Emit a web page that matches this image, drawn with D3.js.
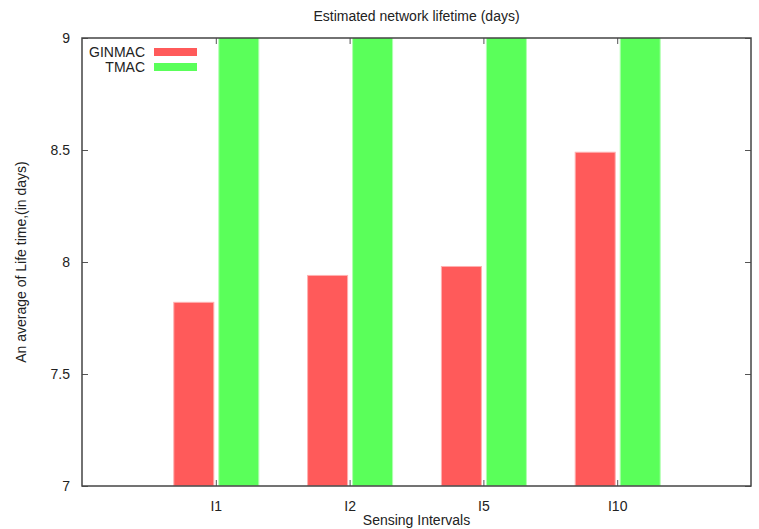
<!DOCTYPE html>
<html>
<head>
<meta charset="utf-8">
<script src="https://cdn.jsdelivr.net/npm/d3@7"></script>
<style>
  body { margin: 0; background: #fff; }
  svg text { font-family: "Liberation Sans", Arial, sans-serif; fill: #222; }
</style>
</head>
<body>
<svg id="chart" width="759" height="529"></svg>
<script>
// Estimated network lifetime bar chart (gnuplot look)
const categories = ['I1', 'I2', 'I5', 'I10'];
const ginmacValues = [7.82, 7.94, 7.98, 8.49];
const tmacValues = [9.6, 9.6, 9.6, 9.6];   // run off the top of the plot
const yTicks = [7, 7.5, 8, 8.5, 9];
const seriesNames = ['GINMAC', 'TMAC'];
const seriesColors = ['#ff5a5a', '#5aff5a'];

const svg = d3.select('#chart');
const margin = { top: 38, right: 8, bottom: 43, left: 82 };
const width = 759, height = 529;
const innerWidth = width - margin.left - margin.right;
const innerHeight = height - margin.top - margin.bottom;
const fontSize = 14;

const x = d3.scaleLinear().domain([0, categories.length + 1]).range([0, innerWidth]);
const y = d3.scaleLinear().domain([7, 9]).range([innerHeight, 0]);

const g = svg.append('g').attr('transform', `translate(${margin.left},${margin.top})`);

svg.append('defs').append('clipPath').attr('id', 'plotClip')
    .append('rect').attr('width', innerWidth).attr('height', innerHeight);

// Bars
const barW = 40;
const offsets = [-22, 23];
const series = [ginmacValues, tmacValues];
const bars = g.append('g').attr('clip-path', 'url(#plotClip)');
series.forEach((vals, s) => {
    bars.selectAll(`.bar${s}`)
        .data(vals)
        .enter()
        .append('rect')
        .attr('x', (d, i) => x(i + 1) + offsets[s] - barW / 2)
        .attr('y', d => y(d))
        .attr('width', barW)
        .attr('height', d => y(7) - y(d))
        .attr('fill', seriesColors[s])
        .attr('stroke', s === 0 ? '#ffb0b0' : '#b0ffb0')
        .attr('stroke-width', 1);
});

// Axes with inward ticks
const tickLen = 6;
const xTickVals = d3.range(1, categories.length + 1);
const yAxisL = d3.axisLeft(y).tickValues(yTicks).tickSizeInner(-tickLen).tickSizeOuter(0).tickPadding(12)
    .tickFormat(d3.format('~g'));
const yAxisR = d3.axisRight(y).tickValues(yTicks).tickSizeInner(-tickLen).tickSizeOuter(0);
const xAxisB = d3.axisBottom(x).tickValues(xTickVals).tickSizeInner(-tickLen)
    .tickSizeOuter(0).tickPadding(15).tickFormat(d => categories[d - 1]);
const xAxisT = d3.axisTop(x).tickValues(xTickVals).tickSizeInner(-tickLen).tickSizeOuter(0);

const axL = g.append('g').call(yAxisL);
const axR = g.append('g').attr('transform', `translate(${innerWidth},0)`).call(yAxisR);
const axB = g.append('g').attr('transform', `translate(0,${innerHeight})`).call(xAxisB);
const axT = g.append('g').call(xAxisT);
axR.selectAll('text').remove();
axT.selectAll('text').remove();

[axL, axR, axB, axT].forEach(a => {
    a.select('.domain').remove();
    a.selectAll('line').attr('stroke', '#555');
    a.selectAll('text').attr('font-size', fontSize).style('font-family', '"Liberation Sans", Arial, sans-serif').attr('fill', '#222');
});

// Border
g.append('rect')
    .attr('width', innerWidth)
    .attr('height', innerHeight)
    .attr('fill', 'none')
    .attr('stroke', '#444')
    .attr('stroke-width', 1.5);

// Legend
seriesNames.forEach((name, i) => {
    const ly = 14 + i * 15;
    g.append('text')
        .attr('x', 63)
        .attr('y', ly)
        .attr('dy', '0.35em')
        .attr('text-anchor', 'end')
        .attr('font-size', fontSize)
        .text(name);
    g.append('rect')
        .attr('x', 72)
        .attr('y', ly - 4)
        .attr('width', 43)
        .attr('height', 8)
        .attr('fill', seriesColors[i]);
});

// Title and axis labels
svg.append('text')
    .attr('x', margin.left + innerWidth / 2)
    .attr('y', 21)
    .attr('text-anchor', 'middle')
    .attr('font-size', fontSize)
    .text('Estimated network lifetime (days)');

svg.append('text')
    .attr('transform', `translate(26,${margin.top + innerHeight / 2}) rotate(-90)`)
    .attr('text-anchor', 'middle')
    .attr('font-size', fontSize)
    .text('An average of Life time,(in days)');

svg.append('text')
    .attr('x', margin.left + innerWidth / 2)
    .attr('y', 525)
    .attr('text-anchor', 'middle')
    .attr('font-size', fontSize)
    .text('Sensing Intervals');
</script>
</body>
</html>
